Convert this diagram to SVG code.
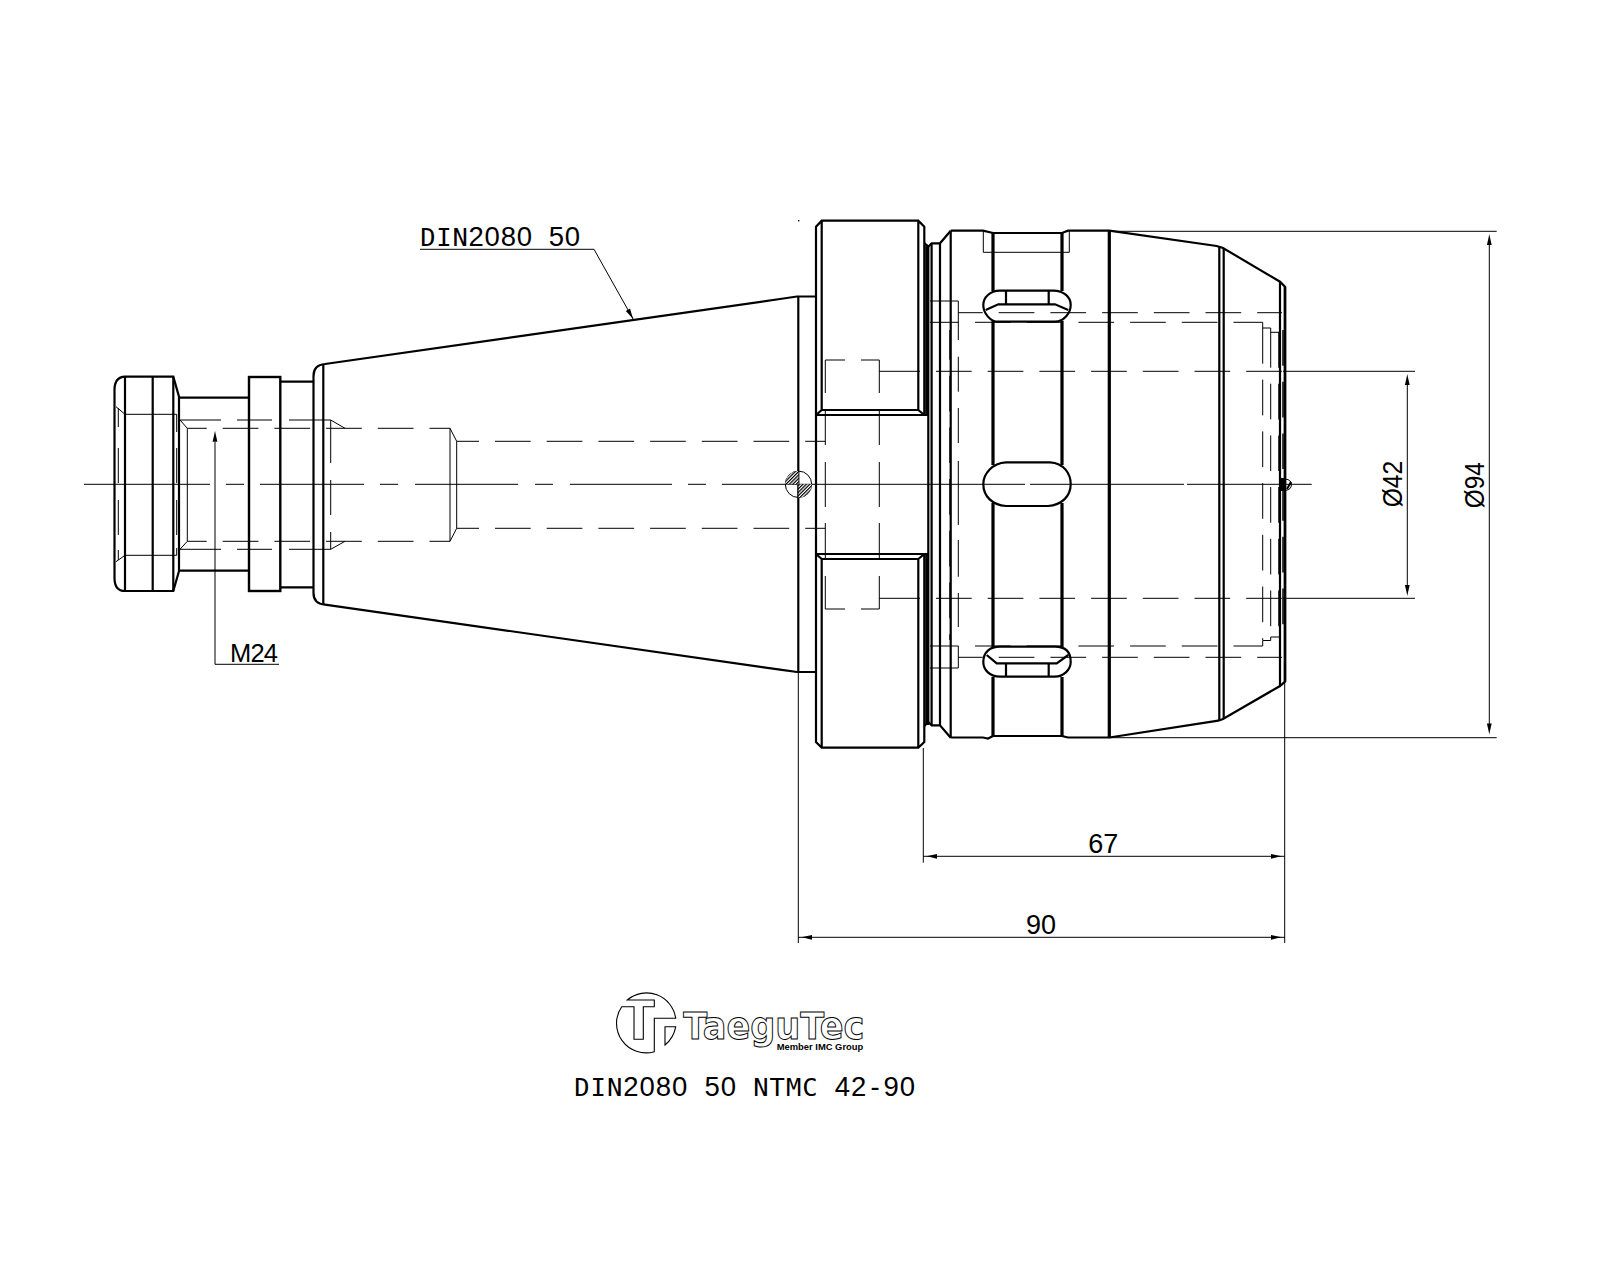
<svg xmlns="http://www.w3.org/2000/svg" width="1600" height="1280" viewBox="0 0 1600 1280">
<style>
.t{fill:none;stroke:#000;stroke-width:1}
.b{fill:none;stroke:#000;stroke-width:2.2}
.x{fill:none;stroke:#000;stroke-width:3.2}
.d{fill:none;stroke:#000;stroke-width:1;stroke-dasharray:35.7 16}
.m{font-family:"DejaVu Sans Mono",monospace;font-size:25.5px;fill:#000;text-anchor:middle}
.n{font-family:"Liberation Sans",Arial,sans-serif;font-size:27.5px}
.s{font-family:"Liberation Sans",Arial,sans-serif;font-size:27px;fill:#000}
</style>
<defs>
<path id="ah" d="M0 0L.8 4L2.4 11L-2.4 11L-.8 4Z" fill="#000"/>
<pattern id="hatch" width="2.4" height="2.4" patternUnits="userSpaceOnUse" patternTransform="rotate(45)"><rect width="2.4" height="2.4" fill="#fff"/><rect width="1.2" height="2.4" fill="#000"/></pattern>
</defs>
<rect width="1600" height="1280" fill="#fff"/>

<g id="hidden-lines">
<path class="t" d="M84 484.3H210M226 484.3H244M260 484.3H364M380 484.3H398M415 484.3H518M535 484.3H553M570 484.3H672M688 484.3H706M722 484.3H1025M1030 484.3H1184M1187 484.3H1311.7"/>
<path class="t" d="M180 420H221M237 420H272M289 420H330.7L345 428.3M180 549.3H221M237 549.3H272M289 549.3H330.7L345 541.3"/>
<path class="t" d="M180 420L187.3 428.3V541.3L180 549.3"/>
<path class="d" stroke-dashoffset="16.3" d="M187.3 428.3H450M187.3 541.3H450"/>
<path class="t" d="M450 428.3L456.7 441.3V528.3L450 541.3V428.3"/>
<path class="d" stroke-dashoffset="13.4" d="M456.7 441.3H825.3M456.7 528.3H825.3"/>
<path class="t" d="M330.7 420V463M330.7 480V515M330.7 532V549.3M176.7 414.3V432M176.7 448V483M176.7 500V535M176.7 548V555.3M118.3 408V427M118.3 448V483M118.3 500V535M118.3 550V560"/>
<path class="t" d="M125 414.3H176.7M125 555.3H176.7M116 406.7L125 414.3M116 561.7L125 555.3"/>
<path class="t" d="M825.3 360H845M861 360H879.3M825.3 609H845M861 609H879.3M825.3 360V393M825.3 410V445M825.3 462V507M825.3 523V559M825.3 576V609M879.3 360V393M879.3 410V445M879.3 462V507M879.3 523V559M879.3 576V609"/>
<path class="t" d="M879.3 371.3H920M879.3 598.3H920"/>
<path class="d" d="M936 371.3H1283M936 598.3H1283"/>
<path class="t" d="M1283 371.3H1415M1283 598.3H1415"/>
<path class="t" d="M930 301H958.3V340M930 322.3H958.3M930 646H958.3V668H930M958.3 356.7V391.7M958.3 408V443M958.3 461V525M958.3 540V576.7M958.3 593V627"/>
<path class="d" stroke-dashoffset="11.3" d="M958.3 312.7H1282M958.3 657.3H1282"/>
<path class="d" d="M975 322.3H1262.7M975 646H1262.7"/>
<path class="t" d="M1262.7 322.3V328H1270.7V332.3H1279M1262.7 646V640.5H1270.7V637H1279"/>
<path class="d" d="M1262.7 328V640M1270.7 332V637"/>
<path class="d" style="stroke-width:1.5" d="M1279 332V637M1283 330V640"/>
<path class="d" style="stroke-width:1.4" stroke-dashoffset="6" d="M950 330V640"/>
</g>

<g id="taper">
<path class="b" d="M125 376.7C118 377 114.5 382 114.5 390V578C114.5 586 118 591 125 591H173.3L179 571V396.7L173.3 376.7Z"/>
<path class="b" d="M125 376.7V591M152.7 376.7V591M173.3 376.7V591"/>
<path class="b" d="M179 397.7H249M179 570.7H249"/>
<rect class="x" style="stroke-width:2.4" x="249" y="377" width="31.3" height="214"/>
<path class="b" d="M280.3 381.7H313.3M280.3 587.3H313.3"/>
<path class="b" d="M313.5 593V376C313.5 370 316 364.6 325 364L780 299L797 296.5H816"/>
<path class="b" d="M313.5 593C313.5 599 316 604 325 604.6L780 669.6L797 672H816"/>
<path class="b" d="M323.3 364V604.6"/>
<path class="b" d="M798.3 296.3V672.3"/>
<circle class="t" cx="798.5" cy="484.3" r="13.2"/>
<path d="M798.5 471.1A13.2 13.2 0 0 0 785.3 484.3H798.5ZM798.5 497.5A13.2 13.2 0 0 0 811.7 484.3H798.5Z" fill="url(#hatch)"/>
<rect x="798" y="220" width="1.4" height="1.4" fill="#000"/>
</g>

<g id="flange">
<path class="b" d="M816 415V226.7L821.7 220.7H918.3L924.3 226.7V415M816 415H928.3M821.7 220.7V410H918.3V220.7M816 415L821.7 410M918.3 410L924.3 415"/>
<path class="b" d="M816 554V742L821.7 747.7H918.3L924.3 742V554M816 554H928.3M821.7 747.7V559H918.3V747.7M816 554L821.7 559M918.3 559L924.3 554"/>
<path class="b" d="M816 415V554"/>
<path class="b" d="M926.3 244V415M926.3 554V725M928.3 246.7V725"/>
<path class="b" d="M924.3 243L928.3 246.7L931.7 243.3H940L950.7 230.7M924.3 726L928.3 722L931.7 725.3H940L950.7 737.7"/>
<path class="b" d="M931.6 243.3V725.3M940 243.3V725.3M950.7 230.7V737.7"/>
</g>

<g id="nut">
<path class="b" d="M950.7 230.7H983L993 233H1062L1068 230.7H1109.3L1216.7 246L1223 248L1280 281.7L1285 286.7V681.7L1280 686L1223 719L1218.3 720.7L1109.3 737.5H1068L1062 736H993L988 738.5L983 737.5H950.7"/>
<path class="x" d="M993 233V291M993 321V465M993 503V647M993 677V736M1062 233V291M1062 321V465M1062 503V647M1062 677V736"/>
<path class="x" d="M1109.3 231V737.5"/>
<path class="b" d="M1219.3 246V720M1223.7 248V719"/>
<path class="b" d="M1280 281.7V686"/>
<path class="x" style="stroke-width:2.6" d="M1285 286.7V681.7"/>
<path class="t" d="M983.3 231V252.3H1069.3V231"/>
<path class="b" d="M983.3 305C983.3 297 990 291 1000 290.7H1053.3C1064 291 1070.7 297 1070.7 305C1070.7 313 1064 321.7 1055 321.7H998.3C990 321.7 983.3 313 983.3 305Z"/>
<path class="b" d="M985.7 310L998.3 304.3H1055L1068.3 310M1006 290.7V304.3M1048.7 290.7V304.3"/>
<path class="b" d="M1006 462.3H1050C1064 463 1070.7 474 1070.7 484C1070.7 496 1062 505 1048 506H1006C992 505 983.3 496 983.3 484C983.3 474 992 463 1006 462.3Z"/>
<path class="b" d="M983.3 662C983.3 652 990 646.7 1000 646.7H1055C1065 646.7 1070.7 652 1070.7 662C1070.7 670 1063 676.7 1055 676.7H1000C990 676.7 983.3 670 983.3 662Z"/>
<path class="b" d="M986.7 655L996.7 663.3H1056.7L1068.3 655M1006 663.3V676.7M1048.7 663.3V676.7"/>
<circle class="t" cx="1286" cy="484.7" r="5.5"/>
<rect x="1279" y="478" width="6" height="13" fill="#000"/>
<path d="M1287 489L1291 482" stroke="#000" stroke-width="2" fill="none"/>
</g>

<g id="connectors">
<path class="t" d="M215 442V664.3H279"/>
<use href="#ah" transform="translate(215 430.7)"/>
<path class="t" d="M420 249.3H594L633.3 319.3"/>
<use href="#ah" transform="translate(633.3 319.3) rotate(150.7)"/>
<path class="t" d="M1109 231.3H1496.7M1109 737.7H1496.7"/>
<path class="t" d="M1489.3 240V728M1407.3 380V590"/>
<use href="#ah" transform="translate(1489.3 234)"/>
<use href="#ah" transform="translate(1489.3 734.6) rotate(180)"/>
<use href="#ah" transform="translate(1407.3 374)"/>
<use href="#ah" transform="translate(1407.3 596) rotate(180)"/>
<path class="t" d="M923.3 748V862.7M798.3 672V943M1284.7 682V943"/>
<path class="t" d="M923.3 856.3H1284.7M798.3 937.3H1284.7"/>
<use href="#ah" transform="translate(926 856.3) rotate(-90)"/>
<use href="#ah" transform="translate(1282 856.3) rotate(90)"/>
<use href="#ah" transform="translate(801 937.3) rotate(-90)"/>
<use href="#ah" transform="translate(1282 937.3) rotate(90)"/>
</g>

<g id="labels">
<text class="m" x="428 444 460.1 476.2 492.2 508.3 524.3 540.4 556.4 572.5" y="245.7">DIN<tspan class="n">2080</tspan> <tspan class="n">50</tspan></text>
<text class="s" style="font-size:25.5px" x="230" y="661.7" textLength="48">M24</text>
<text class="s" x="1088.3" y="853.3" textLength="30">67</text>
<text class="s" x="1026" y="934.3" textLength="30">90</text>
<text class="s" transform="translate(1401.7 507.3) rotate(-90)" textLength="46.6" lengthAdjust="spacingAndGlyphs">Ø42</text>
<text class="s" transform="translate(1484 508.3) rotate(-90)" textLength="46" lengthAdjust="spacingAndGlyphs">Ø94</text>
<text class="m" x="582 598.3 614.6 630.8 647.1 663.4 679.7 695.9 712.2 728.5 744.8 761 777.3 793.6 809.9 826.1 842.4 858.7 875 891.2 907.5" y="1095.7">DIN<tspan class="n">2080</tspan> <tspan class="n">50</tspan> NTMC <tspan class="n">42-90</tspan></text>
</g>

<g id="logo">
<path fill="none" stroke="#000" stroke-width="1.1" d="M627.3 1000H654.3V1006.7H643.3V1039.3H634V1006.7H621.7A29.5 29.5 0 0 0 654.3 1051.7V1018.3H675.7A29.5 29.5 0 0 0 627.3 1000Z"/>
<path fill="none" stroke="#000" stroke-width="1.1" d="M665 1026.7H675.7A29.5 29.5 0 0 1 665 1045Z"/>
<text x="683.3" y="1039.3" font-family="DejaVu Sans, sans-serif" font-weight="bold" font-size="38" fill="#fff" stroke="#000" stroke-width="1" textLength="181" lengthAdjust="spacingAndGlyphs">TaeguTec</text>
<text x="776.7" y="1050" font-family="Liberation Sans, Arial, sans-serif" font-weight="bold" font-size="9.5" fill="#000" textLength="86.6" lengthAdjust="spacingAndGlyphs">Member IMC Group</text>
</g>
</svg>
